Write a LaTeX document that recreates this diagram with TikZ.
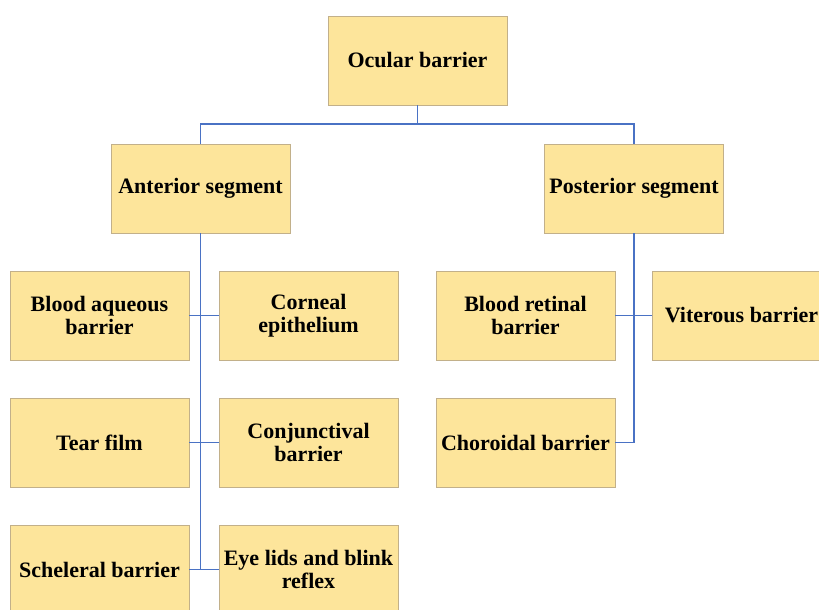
\documentclass[tikz,border=0pt]{standalone}
\usepackage{fontspec}
\setmainfont{Liberation Serif}
\begin{document}
\begin{tikzpicture}[x=1pt,y=-1pt,
  box/.style={draw=boxline, fill=boxfill, line width=0.9pt, rectangle,
    minimum width=179pt, minimum height=89pt, inner sep=1pt, align=center,
    font=\fontsize{22}{22.8}\selectfont\bfseries},
  link/.style={draw=linkblue, line width=1.5pt}]
\definecolor{boxfill}{HTML}{FDE59B}
\definecolor{boxline}{HTML}{C2B08A}
\definecolor{linkblue}{HTML}{4A72C4}
\useasboundingbox (0,0) rectangle (819,610);
\clip (0,0) rectangle (819,610);
\node[box] (ocu) at (417.5,60.5) {Ocular barrier};
\node[box] (ant) at (200.5,188.5) {Anterior segment};
\node[box] (post) at (634,188.5) {Posterior segment};
\node[box] (bab) at (99.5,315.5) {Blood aqueous\\barrier};
\node[box] (ce) at (308.5,315.5) {Corneal\\epithelium};
\node[box] (tf) at (99.5,442.5) {Tear film};
\node[box] (cj) at (308.5,442.5) {Conjunctival\\barrier};
\node[box] (sb) at (99.5,569.5) {Scheleral barrier};
\node[box] (el) at (308.5,569.5) {Eye lids and blink\\reflex};
\node[box] (brb) at (525.5,315.5) {Blood retinal\\barrier};
\node[box] (vb) at (741.5,315.5) {Viterous barrier};
\node[box] (cb) at (525.5,442.5) {Choroidal barrier};
\coordinate (bus) at (417.5,124);
\draw[link] (ocu.south) -- (bus);
\draw[link] (bus) -| (ant.north);
\draw[link] (bus) -| (post.north);
\draw[link] (ant.south) -- (ant.south |- sb.east);
\draw[link] (bab.east) -- (ce.west);
\draw[link] (tf.east) -- (cj.west);
\draw[link] (sb.east) -- (el.west);
\draw[link] (post.south) -- (post.south |- cb.east) -- (cb.east);
\draw[link] (brb.east) -- (vb.west);
\end{tikzpicture}
\end{document}
